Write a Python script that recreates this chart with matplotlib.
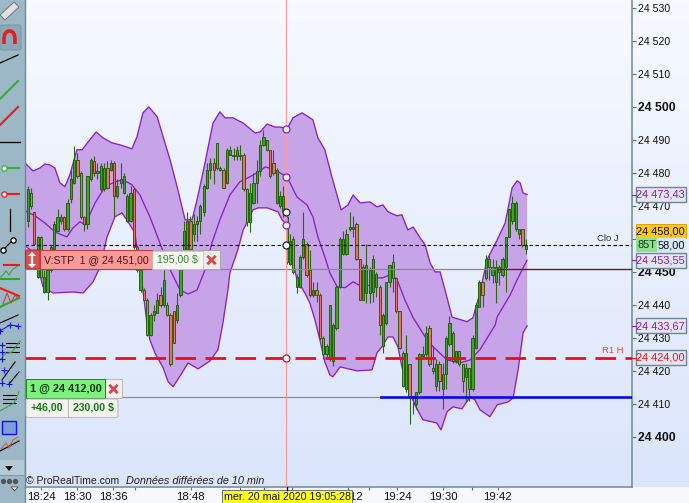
import matplotlib
matplotlib.use('Agg')
import matplotlib.pyplot as plt
import numpy as np
from matplotlib.patches import Rectangle, FancyBboxPatch, Polygon

plt.rcParams['font.family'] = ['Liberation Sans', 'DejaVu Sans']

BASE = 24000

opens = [465.5,474,468,448.5,460.5,444,444,450.5,457,462.5,465.5,466.5,463,472,477,484,480,466.5,464.5,478,
         483.5,480,475,475,481.5,481,483,473,477,474,465.5,465.5,475,457.5,444.5,444.5,441.5,431,437,437.5,
         443,440,440,437,438,435.5,443,456.5,457,465.5,461.5,464.5,465.5,468,475.5,481,483,489,481.5,481,
         477,485.5,485,485,485,485.5,475,465,471,477,480.5,488.5,490,487,483,471,470,468.5,466.5,452.5,
         460,445.5,445.5,454.5,458.5,450.5,443,444.5,443,430,425,423.5,423,433,445.5,455.5,455.5,463,463,464.5,
         454,441.5,443.5,443.5,444,445.5,445.5,427.5,434.5,447,453,448,438,425.5,414.5,422,412.5,410,413.5,424.5,
         425,433,421,415.5,422,414.5,419,428,431.5,423,426,422,418,421,414.5,427,439.5,447,448,454,
         449,447,451.5,449,451.5,460.5,465.5,463,461.5,463,457]
closes = [475,470,458.5,460.5,448.5,448.5,450.5,457.5,464.5,466.5,466.5,463,471,478,484,479,466.5,464.5,479,484,
          480,480.5,482,481.5,475.5,483,473,476,478,479,473,474,457.5,450.5,450.5,441.5,431,437,438,441.5,
          440,447.5,437,422,428.5,440,455,462.5,465.5,457,464.5,465.5,470,476,481,483,481,481.5,481,475.5,
          487,487,485.5,487,485.5,475,465,474,477,480.5,488.5,491,487,479,480,481,473,473,453,459.5,
          450,448.5,454.5,460,449,443,444.5,443,430,425,427.5,440,434,445.5,460,460,461.5,463.5,463.5,454,
          441.5,451.5,452,450.5,454,449.5,434,437,447,452,448,438,427,415.5,425.5,412.5,412,413.5,425,425,
          431.5,422,420,422,417,419,430,434.5,423,426,422,417,421,414.5,430,440,447,443,454,451.5,
          451.5,451.5,450,454,460.5,469,471,471,463,458,458]
highs = [476,475.5,468,461,461,450.5,452,458,465.5,469,467.5,467,472,481,488,486,480.5,467,479,484.5,
         485,483,483,483,483.5,484,483.5,478,483,480,473.5,476,475.5,458,451,445,442,437.5,440,443.5,
         445.5,450.5,441,437.5,438,443.5,456,465.5,468,467,467.5,467,470.5,476.5,483,484.5,484.5,489,482,481.5,
         487.5,488,487.5,488,488.5,486,475.5,477,480,484,490,493,490,487,487,481.5,474.5,476,467,461.5,
         461,449.5,455,468,459,456.5,447,447,443.5,430.5,428,440,434.5,446,460.5,462.5,463,468,467,465,
         454,452.5,458.5,451.5,455,450,446,437.5,447,452,455.5,448.5,438,426,431,422,412.5,413.5,425.5,427.5,
         433.5,434,427.5,423.5,423,422.5,430.5,436.5,432,426,426,422,422.5,421,431,440.5,447.5,447,455,455,
         454,453.5,452,454.5,460.5,469,473,471.5,463,463,460]
lows = [463.5,469,458,448,448,443.5,441.5,450,456.5,462.5,464.5,462.5,462.5,471,476.5,478.5,466,462.5,463,477.5,
        479,478,474.5,474.5,475,480.5,466.5,472.5,475.5,473.5,465,465,457,450,444,441.5,430.5,430.5,435,437.5,
        439.5,439.5,436.5,421.5,428.5,434.5,442.5,456,456.5,456.5,459.5,459.5,461.5,467,475,478,476.5,481,480.5,475.5,
        476.5,485.5,484,484,484,474.5,464,462,470.5,471,479,488,486.5,478.5,479.5,470.5,469.5,466.5,452.5,452,
        449.5,443.5,445,454,448.5,442.5,442.5,441,429.5,423.5,423.5,423,421.5,432.5,445,455,455,462.5,460.5,453.5,
        441.5,441.5,440.5,440.5,441,442.5,431,425.5,434,445.5,444,437.5,426.5,415,413.5,404,407,408.5,413,423.5,
        424.5,421.5,419,414,414,408.5,414.5,427.5,422.5,422.5,421.5,413.5,410.5,411,414,426.5,439.5,439.5,447.5,447.5,
        446.5,440.5,446,448.5,444,460.5,464.5,462.5,460,457.5,455.5]

upper_x = [-0.8,1.6,3.7,5.2,6.7,8.2,9.7,11.2,12.7,14.8,16.4,18.2,20.6,22.7,25.4,27.8,31.4,32.9,34.7,36.5,
           39.0,40.8,42.9,45.0,47.4,49.5,51.0,53.4,55.8,57.9,59.4,61.8,64.9,68.5,70.0,72.1,74.5,76.0,78.1,79.9,
           82.6,85.9,87.4,89.5,91.7,94.4,96.5,98.0,100.1,103.1,105.2,107.0,108.5,111.2,112.7,114.5,116.1,118.2,119.7,121.2,
           122.7,124.2,125.7,127.8,132.3,134.1,136.2,138.3,141.4,143.8,145.9,147.4,148.3,149.2,150.4]
upper_y = [483.0,480.6,481.5,482.7,482.4,481.5,477.0,475.8,479.4,487.0,487.0,489.4,492.4,490.6,489.1,488.5,487.3,490.9,498.2,500.0,
           497.0,490.9,483.9,475.8,465.8,465.8,471.8,483.0,495.1,498.5,496.7,496.7,495.1,492.1,492.4,494.8,493.9,493.9,493.3,496.7,
           498.2,496.1,490.6,487.0,478.5,468.8,470.3,473.3,470.9,471.2,469.7,470.3,468.2,467.0,467.3,462.7,463.6,460.3,458.2,452.7,
           450.0,450.0,444.5,436.3,434.9,436.1,443.6,453.6,459.7,464.8,475.5,477.6,477.0,473.9,473.43]

mid_x = [-0.8,2.2,5.2,8.2,11.8,13.6,15.8,17.3,20.3,23.3,26.3,28.7,31.4,33.8,36.8,39.8,42.9,45.9,48.3,51.0,
         53.4,55.5,57.9,60.9,63.9,66.9,70.0,71.5,73.9,78.1,81.1,84.1,85.9,87.4,89.5,91.0,93.2,95.6,98.0,100.7,
         103.7,105.2,107.0,109.7,111.5,113.6,116.1,119.7,122.1,126.3,130.2,133.2,136.2,140.8,141.4,145.3,147.4,150.4]
mid_y = [468.5,467.0,464.8,462.1,460.6,463.3,465.2,464.2,470.9,475.8,477.3,477.9,476.4,473.3,466.7,458.8,450.6,444.5,443.3,444.5,
         450.6,458.8,465.8,473.3,477.3,478.8,480.6,481.8,481.2,478.8,472.7,470.3,466.7,460.6,454.5,449.7,445.5,445.2,447.0,445.5,
         446.1,448.2,448.2,449.4,447.0,441.5,436.1,430.3,427.3,423.3,422.4,423.3,426.4,433.9,436.4,443.0,447.6,453.55]

lower_x = [-0.8,0.7,2.2,3.7,4.6,7.6,13.6,16.7,19.7,21.8,23.9,26.3,28.4,30.2,32.3,33.5,34.7,35.9,36.8,38.3,
           40.8,42.3,43.8,46.5,48.3,51.3,54.9,57.3,58.8,60.3,60.9,63.3,64.9,67.9,69.4,72.1,75.4,76.6,78.1,78.4,
           79.6,81.1,83.5,85.0,86.5,88.0,89.5,91.0,91.9,94.1,99.2,103.7,105.2,106.7,108.5,110.0,111.5,112.7,114.5,116.6,
           119.0,123.2,124.5,126.3,128.1,130.8,133.2,134.7,136.2,139.2,141.4,144.7,146.2,147.7,149.2,150.4]
lower_y = [457.9,456.7,453.0,449.1,445.5,443.6,443.9,443.6,447.0,451.5,460.6,466.7,467.9,465.2,461.8,453.0,444.5,434.5,429.4,425.5,
           420.9,416.7,415.2,419.4,422.4,420.6,423.0,426.4,434.5,444.5,449.7,456.7,462.7,468.8,469.4,469.4,468.2,465.8,464.2,459.7,
           454.5,447.6,443.6,440.5,435.5,429.4,422.7,418.8,418.2,421.2,420.0,420.3,425.5,427.3,430.3,430.3,427.3,421.2,415.2,409.7,
           405.2,404.2,402.1,407.6,409.1,408.5,412.1,411.2,408.2,406.1,409.7,410.6,411.8,420.3,431.5,433.67]

tick_pos = [4.1,14.9,25.7,32.3,49.1,63.8,71.2,79.6,96.5,102.8,111.2,125.1,133.8,141.6]
tick_txt = ['18:24','18:30','18:36','','18:48','','','','19:12','','19:24','19:30','','19:42']
price_ticks = list(range(24400, 24540, 10))
bold_ticks = [24400, 24450, 24500]

close_j = 24458
r1_h = 24424
stop_price = 24451
entry_price = 24412
cursor_bar = 77.9
cursor_marks = [493.3, 478.8, 468, 464.2]

W, H = 689, 503
fig = plt.figure(figsize=(W / 100, H / 100), dpi=100)

# background gradient over whole figure
bg = fig.add_axes([0, 0, 1, 1], zorder=0)
grad = np.linspace(0, 1, 256).reshape(-1, 1)
top_c = np.array([0.965, 0.98, 1.0])
bot_c = np.array([0.855, 0.895, 0.985])
bg.imshow(top_c + (bot_c - top_c) * grad[:, :, None], aspect='auto', extent=[0, 1, 0, 1])
bg.axis('off')

ax = fig.add_axes([25 / W, 1 - 487 / H, (632 - 25) / W, 487 / H], zorder=1)
ax.patch.set_alpha(0)
ax.set_xlim(-0.81, 182.0)
ax.set_ylim(24384.8, 24532.4)

ux = np.array(upper_x)
uy = np.array(upper_y) + BASE
lx = np.array(lower_x)
ly = np.array(lower_y) + BASE
ax.fill(np.r_[ux, lx[::-1]], np.r_[uy, ly[::-1]], color='#c7a4e8', lw=0, zorder=1)
ax.plot(ux, uy, color='#8a20c4', lw=0.95, zorder=2)
ax.plot(mid_x, np.array(mid_y) + BASE, color='#8a20c4', lw=0.95, zorder=2)
ax.plot(lx, ly, color='#8a20c4', lw=0.95, zorder=2)

# candles
o = np.array(opens) + BASE
c = np.array(closes) + BASE
hi = np.array(highs) + BASE
lo = np.array(lows) + BASE
xs = np.arange(len(o))
ax.vlines(xs, lo, hi, color='#2f6410', lw=0.8, zorder=3)
cols = ['#35a828' if b >= a else '#e8745c' for a, b in zip(o, c)]
ax.bar(xs, np.abs(c - o), bottom=np.minimum(o, c), width=0.68, color=cols,
       edgecolor='#2c5c12', linewidth=0.7, zorder=4)

# horizontal levels
ax.axhline(close_j, color='black', lw=0.8, dashes=(3.1, 2.3), zorder=5)
ax.axhline(stop_price, color='#8a8a8a', lw=0.9, zorder=5)
ax.plot([141.3, 182], [stop_price, stop_price], color='#8c0a0a', lw=0.9, zorder=5)
ax.plot([-0.81, 106.4], [entry_price, entry_price], color='#8a8a8a', lw=0.85, zorder=5)
ax.plot([106.4, 182], [entry_price, entry_price], color='#0808e8', lw=1.9, zorder=6)
ax.axhline(r1_h, color='#f00a14', lw=2.0, dashes=(7.4, 3.4), zorder=6)
ax.axvline(cursor_bar, color='#ff9a9a', lw=0.85, zorder=6)

# cursor markers
for v, ec in zip(cursor_marks, ['#8a20c4', '#8a20c4', '#222222', '#8a20c4']):
    ax.plot(cursor_bar, v + BASE, 'o', ms=5, mfc='#f4f4ff', mec=ec, mew=0.9, zorder=7)
ax.plot(cursor_bar, close_j, 'o', ms=5, mfc='#f4f4ff', mec='#222222', mew=0.9, zorder=7)
ax.plot(cursor_bar, r1_h, 'o', ms=5, mfc='#f4f4ff', mec='#f00a14', mew=0.9, zorder=7)

# axes
for s in ['top', 'left']:
    ax.spines[s].set_visible(False)
ax.spines['right'].set_color('#7b909c')
ax.spines['right'].set_linewidth(1.2)
ax.spines['bottom'].set_color('#7b909c')
ax.spines['bottom'].set_linewidth(1.2)
ax.yaxis.tick_right()
ax.set_yticks(price_ticks)
ax.set_yticklabels(['24 %d' % (p - BASE) for p in price_ticks], fontsize=7.6, color='#101010')
for lab, p in zip(ax.get_yticklabels(), price_ticks):
    if p in bold_ticks:
        lab.set_fontweight('bold')
        lab.set_fontsize(8.8)
ax.tick_params(axis='y', length=3, width=0.8, color='#55707f', pad=1)
ax.set_xticks(tick_pos)
ax.set_xticklabels(tick_txt, fontsize=8.2, color='#101010')
ax.tick_params(axis='x', length=2.5, width=0.8, color='#55707f', pad=1)

ax.text(171.5, close_j + 0.8, 'Clo J', ha='left', va='bottom', fontsize=6.8, color='#223344', zorder=8)
ax.text(173, r1_h + 0.8, 'R1 H', ha='left', va='bottom', fontsize=6.8, color='#f04040', zorder=8)

# overlay in pixel coordinates for toolbar and order tags
ov = fig.add_axes([0, 0, 1, 1], zorder=2)
ov.set_xlim(0, W)
ov.set_ylim(H, 0)
ov.axis('off')


def price_y(p):
    return H - ax.transData.transform((0, p))[1]


def box(x0, y0, x1, y1, fc, ec='none', lw=1, z=3):
    ov.add_patch(Rectangle((x0, y0), x1 - x0, y1 - y0, fc=fc, ec=ec, lw=lw, zorder=z))


def rbox(x0, y0, x1, y1, fc, ec='none', lw=1, z=3):
    ov.add_patch(FancyBboxPatch((x0 + 1, y0 + 1), x1 - x0 - 2, y1 - y0 - 2, boxstyle='round,pad=1,rounding_size=2',
                                fc=fc, ec=ec, lw=lw, zorder=z))


def red_x(cx, cy):
    ov.plot([cx - 3.2, cx + 3.2], [cy - 3.2, cy + 3.2], color='#d84848', lw=2, zorder=6)
    ov.plot([cx - 3.2, cx + 3.2], [cy + 3.2, cy - 3.2], color='#d84848', lw=2, zorder=6)


# right price tags
purple = '#8a18c8'
tags = [(24473.43, '24 473,43', purple), (24453.55, '24 453,55', purple),
        (24433.67, '24 433,67', purple), (24424.00, '24 424,00', '#f01010')]
for val, txt, col in tags:
    yy = price_y(val)
    box(635.5, yy - 7.5, 686, yy + 7.5, '#e4e6f6', ec='#708590', lw=1)
    ov.text(660.7, yy + 0.3, txt, color=col, fontsize=7.9, ha='center', va='center', zorder=5)
    ov.plot([632, 636], [yy, yy], color=col, lw=0.8, zorder=4)
yy = price_y(close_j)
box(635.5, yy - 21.5, 686, yy - 7.5, '#ffc81e', ec='#e0a000', lw=0.7)
ov.text(660.7, yy - 14.2, '24 458,00', color='#101010', fontsize=7.9, ha='center', va='center', zorder=5)
box(635.5, yy - 7, 686, yy + 7, '#d4e8fa')
box(635.5, yy - 7, 657, yy + 7, '#8fe08f')
ov.text(646.5, yy, '85T', color='#0a3a10', fontsize=7.9, ha='center', va='center', zorder=5)
ov.text(671.5, yy, '58,00', color='#101010', fontsize=7.9, ha='center', va='center', zorder=5)

# stop order tag
box(26, 250, 220, 269, '#ececec', ec='#a8a8a8', lw=0.7)
rbox(25.5, 250, 40, 269, '#d85050', ec='#b03030', lw=0.8)
box(40, 250, 151.5, 269, '#fb9a9a', ec='#c03c3c', lw=0.8)
ov.text(44.5, 260, 'V:STP  1 @ 24 451,00', color='#5a1010', fontsize=7.6, va='center', zorder=5)
box(152, 250.5, 202.5, 268.5, '#f6f7f2', ec='#c0c0c0', lw=0.5)
ov.text(177.5, 260, '195,00 $', color='#2a8a2a', fontsize=7.6, ha='center', va='center', zorder=5)
red_x(211.5, 260)
ov.plot([32, 32], [254, 266], color='white', lw=1.6, zorder=6)
ov.add_patch(Polygon([(28, 256), (36, 256), (32, 252)], fc='white', zorder=6))
ov.add_patch(Polygon([(28, 264), (36, 264), (32, 268)], fc='white', zorder=6))

# position tag
box(25.5, 379, 122, 398, '#f0f0f0', ec='#b8b8b8', lw=0.7)
box(25.5, 379, 104.5, 398, '#7ef07e', ec='#109010', lw=0.7)
ov.text(30.5, 389, '1 @ 24 412,00', color='#083808', fontsize=7.9, fontweight='bold', va='center', zorder=5)
red_x(113.5, 389)
rbox(26, 399, 118, 417.5, '#f2f2ee', ec='#b8b8b8', lw=0.7)
ov.plot([67.5, 67.5], [399, 417], color='#b8b8b8', lw=0.7, zorder=5)
ov.text(46.5, 408, '+46,00', color='#157a15', fontsize=7.6, fontweight='bold', ha='center', va='center', zorder=5)
ov.text(93, 408, '230,00 $', color='#157a15', fontsize=7.6, fontweight='bold', ha='center', va='center', zorder=5)

# copyright
ov.text(26.5, 480.5, '© ProRealTime.com', fontsize=7.5, color='#222222', va='center', zorder=5)
ov.text(125.5, 480.5, 'Données différées de 10 min', fontsize=7.8, style='italic', color='#222222', va='center', zorder=5)

# date tag
box(222, 489.5, 352, 503.5, '#ffff14', ec='#707070', lw=0.7)
ov.text(287, 497, 'mer. 20 mai 2020 19:05:28', fontsize=7.7, ha='center', va='center', color='#101010', zorder=5)
ov.plot([286.5, 286.5], [487, 490], color='black', lw=1, zorder=5)

# toolbar
box(0, 0, 24.5, H, '#9cb8c6', z=1)
ov.plot([24.7, 24.7], [0, H], color='#6f8a9c', lw=1, zorder=2)
box(0, 460, 24, 475, '#b4cad4', z=2)
box(0, 475, 24, 476, '#7f98a6', z=2)
box(0, 459.5, 24, 460.3, '#7f98a6', z=2)
ov.add_patch(Polygon([(0, 15), (14, 2), (19, 7), (5, 20)], fc='#dfe2e2', ec='#707878', lw=0.7, zorder=2))
rbox(0, 25, 21, 50, '#8da7b5', ec='#7f98a6', lw=0.8, z=2)
th = np.linspace(np.pi, 2 * np.pi, 30)
ov.plot(9.5 + 5.2 * np.cos(th), 37 + 6 * np.sin(th), color='#e02020', lw=2.6, zorder=3, solid_capstyle='butt')
ov.plot([4.3, 4.3], [37, 44], color='#e02020', lw=2.6, zorder=3, solid_capstyle='butt')
ov.plot([14.7, 14.7], [37, 44], color='#e02020', lw=2.6, zorder=3, solid_capstyle='butt')
ov.plot([0, 18], [63, 55], color='black', lw=0.9, zorder=3)
ov.plot([0, 18], [99, 81], color='#38b030', lw=1.5, zorder=3)
ov.plot([0, 18], [125, 107], color='#f01818', lw=1.5, zorder=3)
ov.plot([0, 20], [142, 142], color='black', lw=0.9, zorder=3)
ov.plot([3, 19], [168, 168], color='#38b030', lw=1.5, zorder=3)
ov.plot(3.5, 168, 'o', ms=3.8, mfc='white', mec='#38b030', mew=0.9, zorder=4)
ov.plot([3, 19], [194, 194], color='#f01818', lw=1.5, zorder=3)
ov.plot(3.5, 194, 'o', ms=3.8, mfc='white', mec='#f01818', mew=0.9, zorder=4)
ov.plot([9.5, 9.5], [209, 231], color='black', lw=0.9, zorder=3)
ov.plot([3, 13], [250, 240], color='black', lw=0.9, zorder=3)
ov.plot([3, 13], [250, 240], 'o', ms=3.8, mfc='white', mec='black', mew=0.9, zorder=4)
ov.plot([4, 19], [265, 265], color='#f01818', lw=1.5, zorder=3)
ov.plot([0, 19], [279, 279], color='#20b020', lw=1.5, zorder=3)
ov.plot([1, 6, 9, 13, 18], [277, 271, 275, 269, 266], color='#40a040', lw=0.8, zorder=3)
ov.plot([0, 19], [288, 296], color='#f01818', lw=1.5, zorder=3)
ov.plot([0, 19], [307, 298], color='#20b020', lw=1.5, zorder=3)
ov.plot([3, 7, 11, 15, 18], [304, 293, 303, 295, 299], color='#e03030', lw=0.7, zorder=3)
ov.plot([0, 18], [323, 315], color='black', lw=0.8, zorder=3)
ov.plot([0, 10, 18], [331, 325, 326], color='#1010e8', lw=0.7, zorder=3)
ov.plot([0, 10, 18], [331, 325, 326], '+', color='#1010e8', ms=4, mew=0.8, zorder=4)
ov.plot([6, 19], [343, 343], color='black', lw=0.8, zorder=3)
ov.plot([6, 19], [347, 347], color='black', lw=0.8, zorder=3)
ov.plot([6, 19], [352, 352], color='black', lw=0.8, zorder=3)
ov.plot([0, 5, 12, 20], [360, 354, 352, 341], color='#40a040', lw=0.8, zorder=3)
ov.plot([2, 2, 2], [345, 352, 359], '+', color='#1010e8', ms=4, mew=0.8, zorder=4)
ov.plot([2, 15], [380, 362], color='black', lw=0.8, zorder=3)
ov.plot([9, 19], [384, 372], color='black', lw=0.8, zorder=3)
ov.plot([2, 4, 9], [383, 370, 384], '+', color='#1010e8', ms=4, mew=0.8, zorder=4)
ov.plot([3, 16], [399, 399], color='black', lw=0.8, zorder=3)
ov.plot([3, 16], [395, 395], color='black', lw=0.8, zorder=3)
ov.plot([3, 16], [403, 403], color='black', lw=0.8, zorder=3)
ov.plot([0, 7, 14, 19], [411, 407, 403, 392], color='#40a040', lw=0.8, zorder=3)
box(2, 421, 16, 434, '#7f9bd8', ec='#1010f0', lw=1, z=3)
ov.plot([0, 19], [451, 441], color='black', lw=0.9, zorder=3)
ov.plot([1, 6, 9, 13, 18], [449, 443, 448, 440, 437], color='#e05040', lw=0.7, zorder=3)
ov.add_patch(Polygon([(5, 466), (13, 466), (9, 471)], fc='#101010', zorder=4))
ov.plot([3, 9, 15], [481, 481, 481], 'o', ms=2.8, color='#555555', zorder=4)
ov.add_patch(Polygon([(11, 487), (18, 487), (14.5, 491)], fc='white', ec='#333333', lw=0.5, zorder=4))

bg.add_patch(Rectangle((0, 0), 1, 16 / H, fc='#f6f8fc', ec='none', transform=bg.transAxes, zorder=2))

fig.savefig('out.png', dpi=100)
